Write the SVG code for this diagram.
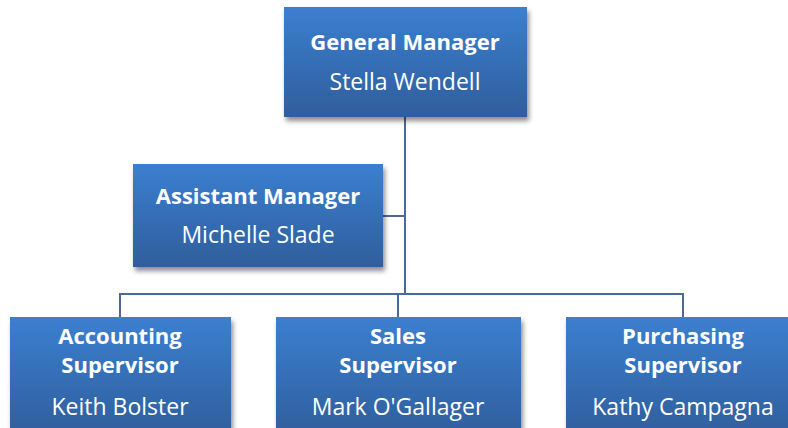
<svg xmlns="http://www.w3.org/2000/svg" width="788" height="428" viewBox="0 0 788 428">
<style>
.box{fill:url(#g);filter:url(#sh)}
.t{font-family:"Open Sans","Liberation Sans",sans-serif;fill:#fff;text-anchor:middle;font-size:23px}
.b{font-weight:bold;font-size:22px}
.c{fill:none;stroke:#4a6a98;stroke-width:2}
</style>
<defs>
<linearGradient id="g" x1="0" y1="0" x2="0" y2="1">
<stop offset="0" stop-color="#3b7fd0"/>
<stop offset="1" stop-color="#2f5e9c"/>
</linearGradient>
<filter id="sh" x="-10%" y="-10%" width="125%" height="130%">
<feGaussianBlur in="SourceAlpha" stdDeviation="2.5"/>
<feOffset dx="2" dy="4"/>
<feComponentTransfer><feFuncA type="linear" slope="0.45"/></feComponentTransfer>
<feMerge><feMergeNode/><feMergeNode in="SourceGraphic"/></feMerge>
</filter>
</defs>
<rect width="788" height="428" fill="#fff"/>
<g id="connectors">
<path class="c" d="M405 117V294M383 216H405M120 317V294H683V317M398 294V317"/>
</g>
<g id="gm">
<rect class="box" x="284" y="7" width="243" height="110"/>
<text class="t b" x="405" y="50">General Manager</text>
<text class="t" x="405" y="90">Stella Wendell</text>
</g>
<g id="am">
<rect class="box" x="133" y="164" width="250" height="103"/>
<text class="t b" x="258" y="204">Assistant Manager</text>
<text class="t" x="258" y="243">Michelle Slade</text>
</g>
<g id="acc">
<rect class="box" x="10" y="317" width="221" height="120"/>
<text class="t b" x="120" y="344">Accounting</text>
<text class="t b" x="120" y="373">Supervisor</text>
<text class="t" x="120" y="415">Keith Bolster</text>
</g>
<g id="sales">
<rect class="box" x="276" y="317" width="245" height="120"/>
<text class="t b" x="398" y="344">Sales</text>
<text class="t b" x="398" y="373">Supervisor</text>
<text class="t" x="398" y="415">Mark O'Gallager</text>
</g>
<g id="purch">
<rect class="box" x="566" y="317" width="234" height="120"/>
<text class="t b" x="683" y="344">Purchasing</text>
<text class="t b" x="683" y="373">Supervisor</text>
<text class="t" x="683" y="415">Kathy Campagna</text>
</g>
</svg>
